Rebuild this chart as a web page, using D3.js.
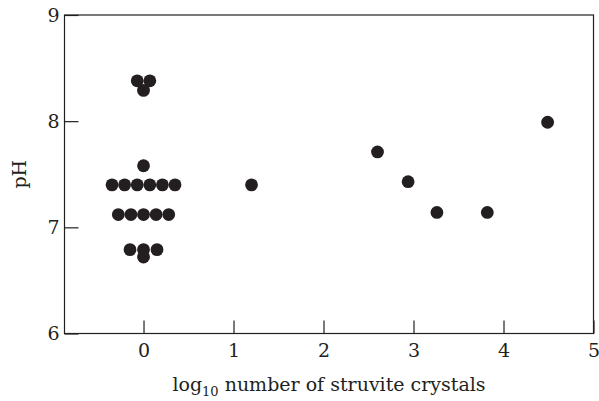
<!DOCTYPE html>
<html>
<head>
<meta charset="utf-8">
<script src="https://d3js.org/d3.v7.min.js"></script>
<style>
  body { margin: 0; background: #fff; }
  text { font-family: "DejaVu Serif", serif; fill: #231f20; }
</style>
</head>
<body>
<div id="container"></div>
<script>
  // svg dimensions
  width = 599
  height = 401

  // plot area edges
  left = 64.5
  right = 593.5
  top_ = 15
  bottom = 333.5

  // data: log10 number of struvite crystals vs pH
  logCrystals = [-0.07, 0.07, 0,
                 0,
                 -0.35, -0.21, -0.07, 0.07, 0.21, 0.35,
                 -0.28, -0.14, 0, 0.14, 0.28,
                 -0.15, 0, 0.15, 0,
                 1.2, 2.6, 2.94, 3.26, 3.82, 4.49];
  pH = [8.38, 8.38, 8.29,
        7.58,
        7.4, 7.4, 7.4, 7.4, 7.4, 7.4,
        7.12, 7.12, 7.12, 7.12, 7.12,
        6.79, 6.79, 6.79, 6.72,
        7.4, 7.71, 7.43, 7.14, 7.14, 7.99];

  xTicks = [0, 1, 2, 3, 4, 5];
  yTicks = [6, 7, 8, 9];

  xTitle = "log";
  xTitleSub = "10";
  xTitleRest = " number of struvite crystals";
  yTitle = "pH";

  var points = logCrystals.map(function(d, i) { return {x: d, y: pH[i]}; });

  var svg = d3.select("#container").append("svg")
    .attr("width", width)
    .attr("height", height);

  var x = d3.scaleLinear().domain([-0.878, 5]).range([left, right]);
  var y = d3.scaleLinear().domain([6, 9]).range([bottom, top_]);

  // x axis, ticks pointing in
  svg.append("g")
    .attr("transform", "translate(0," + bottom + ")")
    .call(d3.axisBottom(x).tickValues(xTicks).tickFormat(d3.format("d"))
      .tickSizeInner(-13).tickSizeOuter(0).tickPadding(10));

  // y axis, ticks pointing in
  svg.append("g")
    .attr("transform", "translate(" + left + ",0)")
    .call(d3.axisLeft(y).tickValues(yTicks).tickFormat(d3.format("d"))
      .tickSizeInner(-14).tickSizeOuter(0).tickPadding(5));

  svg.selectAll(".domain").remove();
  svg.selectAll(".tick line").attr("stroke", "#231f20").attr("stroke-width", 1.2);
  svg.selectAll(".tick text").attr("font-family", "DejaVu Serif").attr("font-size", 19).attr("fill", "#231f20");

  // border
  svg.append("rect")
    .attr("x", left)
    .attr("y", top_)
    .attr("width", right - left)
    .attr("height", bottom - top_)
    .attr("fill", "none")
    .attr("stroke", "#231f20")
    .attr("stroke-width", 1.2);

  // points
  svg.selectAll("circle.pt")
    .data(points)
    .enter().append("circle")
    .attr("class", "pt")
    .attr("cx", function(d) { return x(d.x); })
    .attr("cy", function(d) { return y(d.y); })
    .attr("r", 6.4)
    .attr("fill", "#231f20");

  // x title with subscript
  var xt = svg.append("text")
    .attr("x", (left + right) / 2)
    .attr("y", 391)
    .attr("text-anchor", "middle")
    .attr("font-size", 19);
  xt.append("tspan").text(xTitle);
  xt.append("tspan").attr("font-size", 13).attr("dy", 5).text(xTitleSub);
  xt.append("tspan").attr("dy", -5).text(xTitleRest);

  // y title
  svg.append("text")
    .attr("transform", "translate(26," + ((top_ + bottom) / 2) + ") rotate(-90)")
    .attr("text-anchor", "middle")
    .attr("font-size", 19)
    .text(yTitle);
</script>
</body>
</html>
